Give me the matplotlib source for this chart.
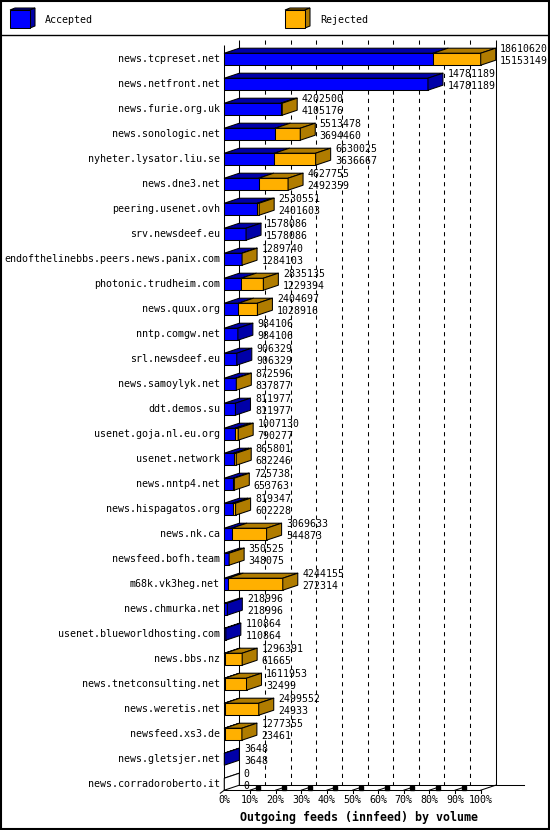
"""Outgoing feeds (innfeed) by volume - 3D style stacked bars."""

import matplotlib
matplotlib.use('Agg')
import matplotlib.pyplot as plt
from matplotlib.collections import PolyCollection
from matplotlib.patches import Rectangle, Polygon

hosts = [
    'news.tcpreset.net', 'news.netfront.net', 'news.furie.org.uk',
    'news.sonologic.net', 'nyheter.lysator.liu.se', 'news.dne3.net',
    'peering.usenet.ovh', 'srv.newsdeef.eu',
    'endofthelinebbs.peers.news.panix.com', 'photonic.trudheim.com',
    'news.quux.org', 'nntp.comgw.net', 'srl.newsdeef.eu',
    'news.samoylyk.net', 'ddt.demos.su', 'usenet.goja.nl.eu.org',
    'usenet.network', 'news.nntp4.net', 'news.hispagatos.org', 'news.nk.ca',
    'newsfeed.bofh.team', 'm68k.vk3heg.net', 'news.chmurka.net',
    'usenet.blueworldhosting.com', 'news.bbs.nz', 'news.tnetconsulting.net',
    'news.weretis.net', 'newsfeed.xs3.de', 'news.gletsjer.net',
    'news.corradoroberto.it',
]
offered = [
    18610620, 14781189, 4202500, 5513478, 6630025, 4627755, 2530551, 1578086,
    1289740, 2835135, 2404697, 984106, 906329, 872596, 811977, 1007130,
    865801, 725738, 819347, 3069633, 350525, 4244155, 218996, 110864,
    1296391, 1611953, 2499552, 1277355, 3648, 0,
]
accepted = [
    15153149, 14781189, 4105176, 3694460, 3636667, 2492359, 2401603, 1578086,
    1284103, 1229394, 1028916, 984106, 906329, 837877, 811977, 790277,
    682246, 653763, 602228, 544873, 348075, 272314, 218996, 110864,
    61665, 32499, 24933, 23461, 3648, 0,
]
rejected = [o - a for o, a in zip(offered, accepted)]
pct_ticks = list(range(0, 101, 10))

BLUE, BLUE_DARK = '#0000ff', '#0000a8'
ORANGE, ORANGE_DARK = '#ffb000', '#b07c00'
MONO = 'DejaVu Sans Mono'

W, H = 550, 830
X0, PX_PCT = 224.3, 2.564      # 0 % on the front plane, pixels per percent
ROW0, ROW_PX = 59.2, 25.0      # first row centre, pixels per row

fig = plt.figure(figsize=(W / 100, H / 100), dpi=100)

# overlay in pixel units for frame and legend
lax = fig.add_axes([0, 0, 1, 1])
lax.set_xlim(0, W)
lax.set_ylim(H, 0)
lax.axis('off')

ax = fig.add_axes([0, 0, 1, 1])
ax.set_xlim(-X0 / PX_PCT, (W - X0) / PX_PCT)
ax.set_ylim((H - ROW0) / ROW_PX, -ROW0 / ROW_PX)
ax.axis('off')
ax.patch.set_alpha(0)

dx = 15 / PX_PCT          # depth offset, percent units
dy = -5 / ROW_PX          # depth offset, row units (up)
half = 6 / ROW_PX         # half bar height
px_x = 1 / PX_PCT
px_y = 1 / ROW_PX

total = max(offered)
n = len(hosts)
rows = list(range(n))
acc_w = [a / total * 100 for a in accepted]
rej_w = [r / total * 100 for r in rejected]
end_w = [o / total * 100 for o in offered]

top_back = rows[0] - half + dy - 0.33
top_front = top_back - dy
floor_front = rows[-1] + half
floor_back = floor_front + dy

# back plane: walls and dashed grid
lw = 0.75
ax.vlines([dx, 100 + dx], top_back, floor_back, color='black', lw=lw, zorder=1)
ax.vlines([p + dx for p in pct_ticks[1:-1]], top_back, floor_back, color='black',
          lw=lw, linestyles=(0, (4, 4)), zorder=1)
ax.vlines([0], top_front, floor_front, color='black', lw=lw, zorder=1)
# floor
ax.plot([0, 100], [floor_front, floor_front], color='black', lw=lw, zorder=1)
ax.plot([dx, 100 + dx + 28 * px_x], [floor_back, floor_back], color='black',
        lw=lw, zorder=1)
ax.plot([100, 100 + dx], [floor_front, floor_back], color='black', lw=lw, zorder=1)
for p in pct_ticks:
    if p == 0:
        ax.plot([p, p - 4 * px_x], [floor_front, floor_front + 3 * px_y],
                color='black', lw=lw, zorder=1)
        continue
    ax.plot([p, p], [floor_front, floor_front + 3 * px_y], color='black', lw=lw, zorder=1)
    if p < 100:
        ax.plot([p, p + 9 * px_x], [floor_front, floor_front - 3 * px_y],
                color='black', lw=lw, zorder=1)
        ax.plot([p + 8.5 * px_x], [floor_front - 2.7 * px_y], marker='s', ms=2.4,
                color='black', zorder=1)

# front faces
ax.barh(rows, acc_w, height=2 * half, color=BLUE, edgecolor='black', lw=lw, zorder=3)
ax.barh(rows, rej_w, left=acc_w, height=2 * half, color=ORANGE, edgecolor='black',
        lw=lw, zorder=3)

# top and side faces
tops, top_cols, sides, side_cols = [], [], [], []
for y, a, e, r in zip(rows, acc_w, end_w, rejected):
    yt = y - half
    for l, w, c in ((0, a, BLUE_DARK), (a, e - a, ORANGE_DARK)):
        if w > 0:
            tops.append([(l, yt), (l + w, yt), (l + w + dx, yt + dy), (l + dx, yt + dy)])
            top_cols.append(c)
    if e == 0:
        tops.append([(0, yt), (0, yt), (dx, yt + dy), (dx, yt + dy)])
        top_cols.append('white')
    sides.append([(e, yt), (e, y + half), (e + dx, y + half + dy), (e + dx, yt + dy)])
    side_cols.append(ORANGE_DARK if r > 0 else (BLUE_DARK if e > 0 else 'white'))
ax.add_collection(PolyCollection(tops, facecolors=top_cols, edgecolors='black',
                                 linewidths=lw, zorder=3))
ax.add_collection(PolyCollection(sides, facecolors=side_cols, edgecolors='black',
                                 linewidths=lw, zorder=3))

# labels
for y, h, e, o, a in zip(rows, hosts, end_w, offered, accepted):
    ax.text(-4.3 * px_x, y, h, family=MONO, fontsize=7.2, ha='right', va='center')
    xl = e + dx + 4.5 * px_x
    ax.text(xl, y - 9.8 * px_y, str(o), family=MONO, fontsize=7.1, ha='left',
            va='center', zorder=4)
    ax.text(xl, y + 1.6 * px_y, str(a), family=MONO, fontsize=7.1, ha='left',
            va='center', zorder=4)

for p in pct_ticks:
    ax.text(p, floor_front + 10 * px_y, f'{p}%', family=MONO, fontsize=7.2,
            ha='center', va='center')
ax.text(50 + 6 * px_x, floor_front + 27 * px_y, 'Outgoing feeds (innfeed) by volume',
        family=MONO, fontsize=8.4, fontweight='bold', ha='center', va='center')

# frame and legend
lax.add_patch(Rectangle((0.7, 0.7), W - 1.6, H - 1.6, fill=False, ec='black', lw=1.5))
lax.plot([0, W], [35, 35], color='black', lw=1)
for x, c, dc, name in ((10, BLUE, BLUE_DARK, 'Accepted'),
                       (285, ORANGE, ORANGE_DARK, 'Rejected')):
    lax.add_patch(Polygon([(x, 10), (x + 5, 8), (x + 25, 8), (x + 20, 10)],
                          fc=dc, ec='black', lw=lw))
    lax.add_patch(Polygon([(x + 20, 10), (x + 25, 8), (x + 25, 26), (x + 20, 28)],
                          fc=dc, ec='black', lw=lw))
    lax.add_patch(Rectangle((x, 10), 20, 18, fc=c, ec='black', lw=lw))
    lax.text(x + 35, 20, name, family=MONO, fontsize=7.2, ha='left', va='center')

fig.savefig('out.png', dpi=100)
